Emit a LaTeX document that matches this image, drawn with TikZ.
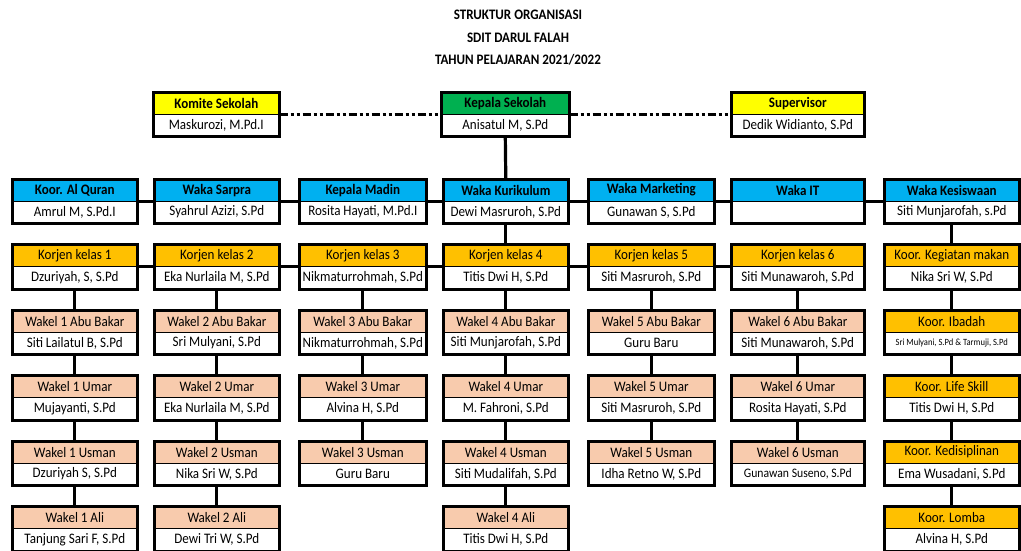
\documentclass[tikz,border=0pt]{standalone}
\usepackage{fontspec}
\setmainfont{Carlito}[FakeStretch=0.9]
\definecolor{cblue}{HTML}{00B0F0}
\definecolor{cyellow}{HTML}{FFFF00}
\definecolor{cgreen}{HTML}{00B050}
\definecolor{corange}{HTML}{FFC000}
\definecolor{cpeach}{HTML}{F8CBAD}
\tikzset{
  hd/.style={draw=black, line width=0.6pt, inner sep=0pt, minimum height=21.5pt, anchor=north west, font=\fontsize{14.5}{16}\selectfont},
  nm/.style={draw=black, line width=0.6pt, fill=white, inner sep=0pt, minimum height=22.5pt, anchor=north west, font=\fontsize{14.5}{16}\selectfont},
  boxline/.style={line width=3pt, line join=miter},
  conn/.style={line width=3.2pt},
  dashconn/.style={line width=3pt, dash pattern=on 8pt off 3pt on 3pt off 3pt on 3pt off 3pt},
  ttl/.style={font=\fontsize{14.5}{16}\selectfont\bfseries, inner sep=0pt}
}
\newcommand\orgbox[7]{%
  \node[hd, fill=#5, minimum width=#4pt] (#1h) at (#2,#3) {#6};
  \node[nm, minimum width=#4pt] (#1) at (#2,#3+21.5) {#7};
  \draw[boxline] (#1h.north west) rectangle (#1.south east);
}
\begin{document}
\begin{tikzpicture}[x=1pt,y=-1pt]
\useasboundingbox (0,0) rectangle (1021,550);
% title
\node[ttl] (t1) at (518,15) {STRUKTUR ORGANISASI};
\node[ttl] (t2) at (518,38) {SDIT DARUL FALAH};
\node[ttl] (t3) at (518,60) {TAHUN PELAJARAN 2021/2022};
% top row
\orgbox{komite}{153}{92}{126}{cyellow}{\bfseries Komite Sekolah}{Maskurozi, M.Pd.I}
\orgbox{kepala}{441}{92}{128}{cgreen}{\bfseries Kepala Sekolah}{Anisatul M, S.Pd}
\orgbox{superv}{731}{92}{133}{cyellow}{\bfseries Supervisor}{Dedik Widianto, S.Pd}
% blue row
\orgbox{quran}{12}{179}{125}{cblue}{\bfseries Koor. Al Quran}{Amrul M, S.Pd.I}
\orgbox{sarpra}{154}{179}{125}{cblue}{\bfseries Waka Sarpra}{Syahrul Azizi, S.Pd}
\orgbox{madin}{299}{179}{127}{cblue}{\bfseries Kepala Madin}{Rosita Hayati, M.Pd.I}
\orgbox{kuri}{443}{179}{125}{cblue}{\bfseries Waka Kurikulum}{Dewi Masruroh, S.Pd}
\orgbox{market}{588}{179}{126}{cblue}{\bfseries Waka Marketing}{Gunawan S, S.Pd}
\orgbox{it}{731}{179}{133}{cblue}{\bfseries Waka IT}{}
\orgbox{kesis}{884}{179}{135}{cblue}{\bfseries Waka Kesiswaan}{Siti Munjarofah, s.Pd}
% orange row
\orgbox{kj1}{12}{244.5}{125}{corange}{Korjen kelas 1}{Dzuriyah, S, S.Pd}
\orgbox{kj2}{154}{244.5}{125}{corange}{Korjen kelas 2}{Eka Nurlaila M, S.Pd}
\orgbox{kj3}{299}{244.5}{127}{corange}{Korjen kelas 3}{Nikmaturrohmah, S.Pd}
\orgbox{kj4}{443}{244.5}{125}{corange}{Korjen kelas 4}{Titis Dwi H, S.Pd}
\orgbox{kj5}{588}{244.5}{126}{corange}{Korjen kelas 5}{Siti Masruroh, S.Pd}
\orgbox{kj6}{731}{244.5}{133}{corange}{Korjen kelas 6}{Siti Munawaroh, S.Pd}
\orgbox{makan}{884}{244.5}{135}{corange}{Koor. Kegiatan makan}{Nika Sri W, S.Pd}
% Abu Bakar row
\orgbox{ab1}{12}{310}{125}{cpeach}{Wakel 1 Abu Bakar}{Siti Lailatul B, S.Pd}
\orgbox{ab2}{154}{310}{125}{cpeach}{Wakel 2 Abu Bakar}{Sri Mulyani, S.Pd}
\orgbox{ab3}{299}{310}{127}{cpeach}{Wakel 3 Abu Bakar}{Nikmaturrohmah, S.Pd}
\orgbox{ab4}{443}{310}{125}{cpeach}{Wakel 4 Abu Bakar}{Siti Munjarofah, S.Pd}
\orgbox{ab5}{588}{310}{126}{cpeach}{Wakel 5 Abu Bakar}{Guru Baru}
\orgbox{ab6}{731}{310}{133}{cpeach}{Wakel 6 Abu Bakar}{Siti Munawaroh, S.Pd}
\orgbox{ibadah}{884}{310}{135}{corange}{Koor. Ibadah}{\fontsize{9.5}{11}\selectfont Sri Mulyani, S.Pd \& Tarmuji, S.Pd}
% Umar row
\orgbox{um1}{12}{375.5}{125}{cpeach}{Wakel 1 Umar}{Mujayanti, S.Pd}
\orgbox{um2}{154}{375.5}{125}{cpeach}{Wakel 2 Umar}{Eka Nurlaila M, S.Pd}
\orgbox{um3}{299}{375.5}{127}{cpeach}{Wakel 3 Umar}{Alvina H, S.Pd}
\orgbox{um4}{443}{375.5}{125}{cpeach}{Wakel 4 Umar}{M. Fahroni, S.Pd}
\orgbox{um5}{588}{375.5}{126}{cpeach}{Wakel 5 Umar}{Siti Masruroh, S.Pd}
\orgbox{um6}{731}{375.5}{133}{cpeach}{Wakel 6 Umar}{Rosita Hayati, S.Pd}
\orgbox{life}{884}{375.5}{135}{corange}{Koor. Life Skill}{Titis Dwi H, S.Pd}
% Usman row
\orgbox{us1}{12}{441}{125}{cpeach}{Wakel 1 Usman}{Dzuriyah S, S.Pd}
\orgbox{us2}{154}{441}{125}{cpeach}{Wakel 2 Usman}{Nika Sri W, S.Pd}
\orgbox{us3}{299}{441}{127}{cpeach}{Wakel 3 Usman}{Guru Baru}
\orgbox{us4}{443}{441}{125}{cpeach}{Wakel 4 Usman}{Siti Mudalifah, S.Pd}
\orgbox{us5}{588}{441}{126}{cpeach}{Wakel 5 Usman}{Idha Retno W, S.Pd}
\orgbox{us6}{731}{441}{133}{cpeach}{Wakel 6 Usman}{\fontsize{13}{15}\selectfont Gunawan Suseno, S.Pd}
\orgbox{disip}{884}{441}{135}{corange}{Koor. Kedisiplinan}{Ema Wusadani, S.Pd}
% Ali row
\orgbox{al1}{12}{506.5}{125}{cpeach}{Wakel 1 Ali}{Tanjung Sari F, S.Pd}
\orgbox{al2}{154}{506.5}{125}{cpeach}{Wakel 2 Ali}{Dewi Tri W, S.Pd}
\orgbox{al4}{443}{506.5}{125}{cpeach}{Wakel 4 Ali}{Titis Dwi H, S.Pd}
\orgbox{lomba}{884}{506.5}{135}{corange}{Koor. Lomba}{Alvina H, S.Pd}
% top connectors
\draw[dashconn] (komiteh.south east) -- (kepalah.south west);
\draw[dashconn] (kepalah.south east) -- (supervh.south west);
\draw[conn] (kepala.south) -- (kurih.north);
% blue row line
\draw[conn] (quranh.south east) -- (sarprah.south west);
\draw[conn] (sarprah.south east) -- (madinh.south west);
\draw[conn] (madinh.south east) -- (kurih.south west);
\draw[conn] (kurih.south east) -- (marketh.south west);
\draw[conn] (marketh.south east) -- (ith.south west);
\draw[conn] (ith.south east) -- (kesish.south west);
\draw[conn] (kuri.south) -- (kj4h.north);
\draw[conn] (kesis.south) -- (makanh.north);
% orange row line
\draw[conn] (kj1h.south east) -- (kj2h.south west);
\draw[conn] (kj2h.south east) -- (kj3h.south west);
\draw[conn] (kj3h.south east) -- (kj4h.south west);
\draw[conn] (kj4h.south east) -- (kj5h.south west);
\draw[conn] (kj5h.south east) -- (kj6h.south west);
% column chains
\draw[conn] (kj1.south) -- (ab1h.north);
\draw[conn] (ab1.south) -- (um1h.north);
\draw[conn] (um1.south) -- (us1h.north);
\draw[conn] (us1.south) -- (al1h.north);
\draw[conn] (kj2.south) -- (ab2h.north);
\draw[conn] (ab2.south) -- (um2h.north);
\draw[conn] (um2.south) -- (us2h.north);
\draw[conn] (us2.south) -- (al2h.north);
\draw[conn] (kj3.south) -- (ab3h.north);
\draw[conn] (ab3.south) -- (um3h.north);
\draw[conn] (um3.south) -- (us3h.north);
\draw[conn] (kj4.south) -- (ab4h.north);
\draw[conn] (ab4.south) -- (um4h.north);
\draw[conn] (um4.south) -- (us4h.north);
\draw[conn] (us4.south) -- (al4h.north);
\draw[conn] (kj5.south) -- (ab5h.north);
\draw[conn] (ab5.south) -- (um5h.north);
\draw[conn] (um5.south) -- (us5h.north);
\draw[conn] (kj6.south) -- (ab6h.north);
\draw[conn] (ab6.south) -- (um6h.north);
\draw[conn] (um6.south) -- (us6h.north);
\draw[conn] (makan.south) -- (ibadahh.north);
\draw[conn] (ibadah.south) -- (lifeh.north);
\draw[conn] (life.south) -- (disiph.north);
\draw[conn] (disip.south) -- (lombah.north);
\end{tikzpicture}
\end{document}
